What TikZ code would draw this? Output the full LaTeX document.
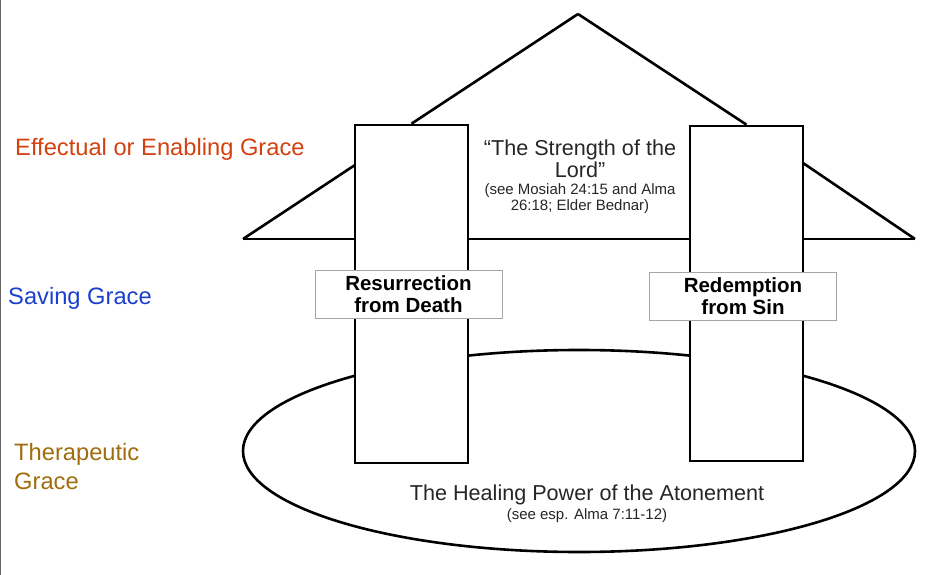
\documentclass[tikz,border=0pt]{standalone}
\usepackage{fontspec}
\setmainfont{Liberation Sans}
\usetikzlibrary{shapes.geometric,positioning,calc}
\definecolor{enabling}{HTML}{D2410F}
\definecolor{saving}{HTML}{1A3FCC}
\definecolor{healing}{HTML}{A06C0C}

\begin{document}
\begin{tikzpicture}[
  x=1pt, y=-1pt,
  line/.style={draw=black, line width=2.6pt, line join=miter},
  pillar/.style={rectangle, line, fill=white, minimum width=113pt, inner sep=0pt},
  tag/.style={rectangle, draw=gray!70, line width=0.9pt, fill=white, minimum width=187pt, minimum height=48pt, inner sep=0pt, align=center, font=\fontsize{20.5}{22}\selectfont\bfseries},
  title/.style={align=center, inner sep=0pt, text=black!85, font=\fontsize{21.6}{22}\selectfont},
  ref/.style={align=center, inner sep=0pt, text=black!85, font=\fontsize{15}{16.5}\selectfont},
  side/.style={anchor=west, align=left, inner sep=0pt, font=\fontsize{23.7}{29}\selectfont}
]
\useasboundingbox (0,0) rectangle (943,575);
\draw[gray!80!black, line width=1.2pt] (0.6,0) -- (0.6,575);

% base of the house
\node[ellipse, line, fill=white, minimum width=672pt, minimum height=202pt, inner sep=0pt] (base) at (579,451) {};

% roof and wings
\coordinate (apex) at (578,14);
\coordinate (wingL) at (243,239);
\coordinate (wingR) at (915,239);
\draw[line] (wingL) -- (wingR);
\draw[line] (wingL) -- (355,165);
\draw[line] (wingR) -- (803,163);

% pillars
\node[pillar, minimum height=338pt] (pillarL) at (411.5,294) {};
\node[pillar, minimum height=335pt] (pillarR) at (746.5,293.5) {};
\draw[line] (apex) -- (pillarL.north);
\draw[line] (apex) -- (pillarR.north);

% labels on the pillars
\node[tag] (resurrection) at (408.5,294) {Resurrection\\from Death};
\node[tag] (redemption) at (743,296) {Redemption\\from Sin};

% texts
\node[title] (strength) at (580,159) {“The Strength of the\\Lord”};
\node[ref, below=5pt of strength] (strengthref) {(see Mosiah 24:15 and Alma\\26:18; Elder Bednar)};
\node[title] (power) at (587,495) {The Healing Power of the Atonement};
\node[ref, below=3pt of power] (powerref) {(see esp. Alma 7:11-12)};

% kinds of grace
\node[side, text=enabling] (effectual) at (15,149) {Effectual or Enabling Grace};
\node[side, text=saving] (savinggrace) at (8,298) {Saving Grace};
\node[side, text=healing] (therapeutic) at (14,467) {Therapeutic\\Grace};
\end{tikzpicture}
\end{document}
